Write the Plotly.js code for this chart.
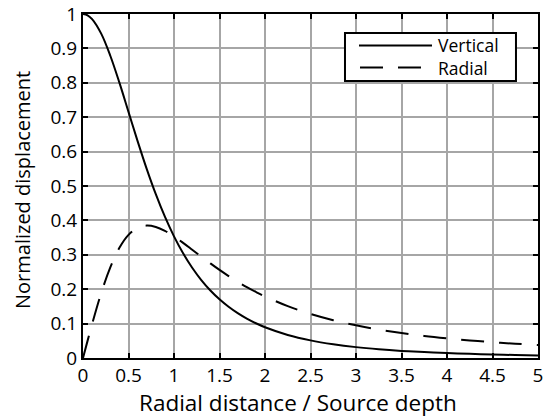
<!DOCTYPE html>
<html><head><meta charset="utf-8">
<script src="https://cdn.plot.ly/plotly-3.0.1.min.js"></script>
<style>html,body{margin:0;padding:0;background:#fff}#chart{width:558px;height:420px}</style>
</head><body><div id="chart"></div>
<script>
var xValues = [0,0.05,0.1,0.2,0.3,0.4,0.5,0.6,0.7,0.8,0.9,1.0,1.1,1.2,1.3,1.4,1.5,1.6,1.7,1.8,1.9,2.0,2.25,2.5,2.75,3.0,3.25,3.5,3.75,4.0,4.25,4.5,4.75,5.0];
var vertical = [1,0.9963,0.9852,0.9429,0.8787,0.8004,0.7155,0.6305,0.5498,0.4761,0.4107,0.3536,0.3044,0.2624,0.2267,0.1964,0.1707,0.1489,0.1303,0.1145,0.1010,0.0894,0.0670,0.0512,0.0399,0.0316,0.0254,0.0207,0.0171,0.0143,0.0120,0.0102,0.0087,0.0075];
var radial = [0,0.0498,0.0985,0.1886,0.2636,0.3202,0.3578,0.3783,0.3849,0.3809,0.3696,0.3536,0.3348,0.3148,0.2947,0.2749,0.2560,0.2382,0.2216,0.2062,0.1920,0.1789,0.1507,0.1281,0.1098,0.0949,0.0827,0.0726,0.0641,0.0571,0.0511,0.0459,0.0415,0.0377];
var seriesNames = ["Vertical","Radial"];
var xTicks = [0,0.5,1,1.5,2,2.5,3,3.5,4,4.5,5];
var yTicks = [0,0.1,0.2,0.3,0.4,0.5,0.6,0.7,0.8,0.9,1];
var xTitle = "Radial distance / Source depth";
var yTitle = "Normalized displacement";

var font = "Open Sans, Noto Sans, sans-serif";
var dashPattern = "23px,15px";
var traces = [
  {x:xValues, y:vertical, name:seriesNames[0], mode:"lines", showlegend:false, line:{color:"#000", width:2, shape:"spline"}},
  {x:xValues, y:radial, name:seriesNames[1], mode:"lines", showlegend:false, line:{color:"#000", width:2, dash:dashPattern, shape:"spline"}}
];
var axisCommon = {
  showline:true, linecolor:"#000", linewidth:2, mirror:"ticks",
  ticks:"inside", ticklen:5, tickwidth:2, tickcolor:"#000",
  showgrid:true, gridcolor:"#a6a6a6", gridwidth:2, zeroline:false,
  ticklabeloverflow:"allow",
  tickfont:{family:font, size:19, color:"#000"}
};
// legend drawn as paper-positioned box, samples and labels
var legendShapes = [
  {type:"rect", xref:"paper", yref:"paper", x0:0.5758, x1:0.9516, y0:0.8052, y1:0.9448,
   fillcolor:"#fff", line:{color:"#000", width:2}, layer:"above"},
  {type:"line", xref:"paper", yref:"paper", x0:0.6066, x1:0.7670, y0:0.9084, y1:0.9084,
   line:{color:"#000", width:2}, layer:"above"},
  {type:"line", xref:"paper", yref:"paper", x0:0.6088, x1:0.7428, y0:0.8445, y1:0.8445,
   line:{color:"#000", width:2, dash:dashPattern}, layer:"above"}
];
var annots = [
  {text:seriesNames.join("<br>"), xref:"paper", yref:"paper", x:0.7780, y:0.8765, xanchor:"left", yanchor:"middle", align:"left",
   showarrow:false, borderpad:0, font:{family:font, size:17.5, color:"#000"}},
  {text:xTitle, xref:"paper", yref:"paper", x:0.4736, y:-0.1308, xanchor:"center", yanchor:"middle",
   showarrow:false, borderpad:0, font:{family:font, size:22.5, color:"#000"}},
  {text:yTitle, xref:"paper", yref:"paper", x:-0.1319, y:0.4884, xanchor:"center", yanchor:"middle", textangle:-90,
   showarrow:false, borderpad:0, font:{family:font, size:20, color:"#000"}}
];
var layout = {
  width:558, height:420,
  margin:{l:83, r:20, t:14, b:62},
  paper_bgcolor:"#fff", plot_bgcolor:"#fff",
  font:{family:font, color:"#000"},
  showlegend:false,
  shapes:legendShapes,
  annotations:annots,
  xaxis: Object.assign({}, axisCommon, {range:[0,5], tickvals:xTicks, ticktext:xTicks.map(String), ticklabelstandoff:-1}),
  yaxis: Object.assign({}, axisCommon, {range:[0,1], tickvals:yTicks, ticktext:yTicks.map(String)})
};
Plotly.newPlot("chart", traces, layout, {displayModeBar:false, staticPlot:true});
</script></body></html>
